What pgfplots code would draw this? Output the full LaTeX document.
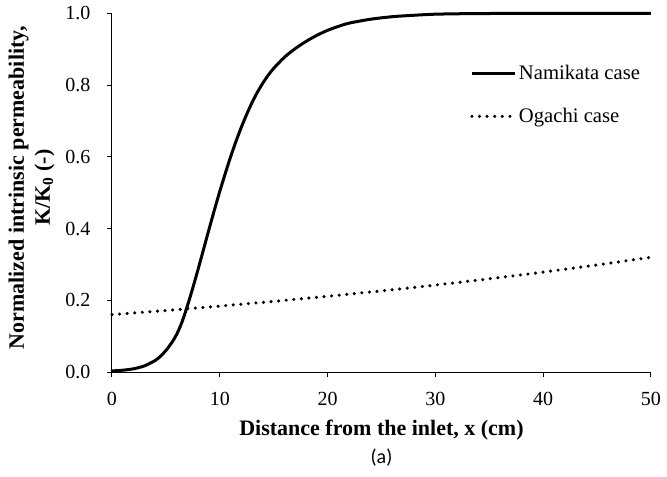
\documentclass[border=0pt]{standalone}
\usepackage{pgfplots}
\pgfplotsset{compat=1.18}
\usepackage{fontspec}
\setmainfont{Liberation Serif}
\newfontfamily\carlito{Carlito}

\pgfplotstableread{
x y
0 0.003
1 0.005
2 0.009
3 0.017
4 0.032
4.5 0.044
5 0.060
5.5 0.080
6 0.105
6.5 0.140
7 0.185
7.5 0.235
8 0.288
8.5 0.343
9 0.398
9.5 0.452
10 0.504
10.5 0.553
11 0.600
11.5 0.643
12 0.683
12.5 0.719
13 0.752
13.5 0.781
14 0.806
14.5 0.828
15 0.847
16 0.878
17 0.902
18 0.922
19 0.939
20 0.953
21 0.964
22 0.973
24 0.984
26 0.991
28 0.995
30 0.998
33 0.9995
36 1.000
40 1.000
45 1.000
50 1.000
}\namikata

\pgfplotstableread{
x y
0 0.160
5 0.1715
10 0.1838
15 0.1970
20 0.2111
25 0.2263
30 0.2425
35 0.2599
40 0.2786
45 0.2986
50 0.3200
}\ogachi

\begin{document}
\begin{tikzpicture}
\begin{axis}[
  at={(0,0)}, anchor=south west,
  width=404.25pt, height=268.9pt, scale only axis,
  xmin=0, xmax=50, ymin=0, ymax=1,
  axis x line*=bottom, axis y line*=left,
  axis line style={line width=0.75pt, -},
  xtick={0,10,20,30,40,50}, ytick={0,0.2,0.4,0.6,0.8,1},
  tick align=outside, major tick length=3.75pt,
  tick style={line width=0.75pt, black},
  /pgf/number format/assume math mode=true,
  tick label style={font=\fontsize{15}{18}\selectfont},
  x tick label style={yshift=-8pt},
  y tick label style={xshift=-9pt, /pgf/number format/fixed, /pgf/number format/fixed zerofill, /pgf/number format/precision=1},
  xlabel={Distance from the inlet, x (cm)},
  xlabel style={at={(axis description cs:0.5,0)}, anchor=center, yshift=-43.5pt, font=\bfseries\fontsize{16.5}{19.5}\selectfont},
  ylabel={Normalized intrinsic permeability,\\K/K\textsubscript{0} (-)},
  ylabel style={at={(axis description cs:-0.1494,0.514)}, anchor=center, align=center, font=\bfseries\fontsize{16.5}{19.5}\selectfont},
  legend style={draw=none, fill=none, at={(axis description cs:0.664,0.773)}, anchor=west, inner sep=0pt, row sep=16pt, font=\fontsize{15.5}{18}\selectfont, nodes={inner sep=2pt}},
  legend cell align=left,
  legend image code/.code={\draw[#1] (0pt,0pt) -- (32pt,0pt);},
  clip=false,
]
\addplot[black, line width=2.25pt, smooth, line join=round] table {\namikata};
\addlegendentry{Namikata case}
\addplot[black, line width=2.6pt, line cap=round, dash pattern=on 0pt off 5.7pt] table {\ogachi};
\addlegendentry{Ogachi case}
\node[font=\carlito\fontsize{15}{18}\selectfont, yshift=-64.5pt] at (axis description cs:0.5,0) {(a)};
\end{axis}
\pgfresetboundingbox
\path[use as bounding box] (-84pt,-78pt) rectangle (416.25pt,279pt);
\end{tikzpicture}
\end{document}
